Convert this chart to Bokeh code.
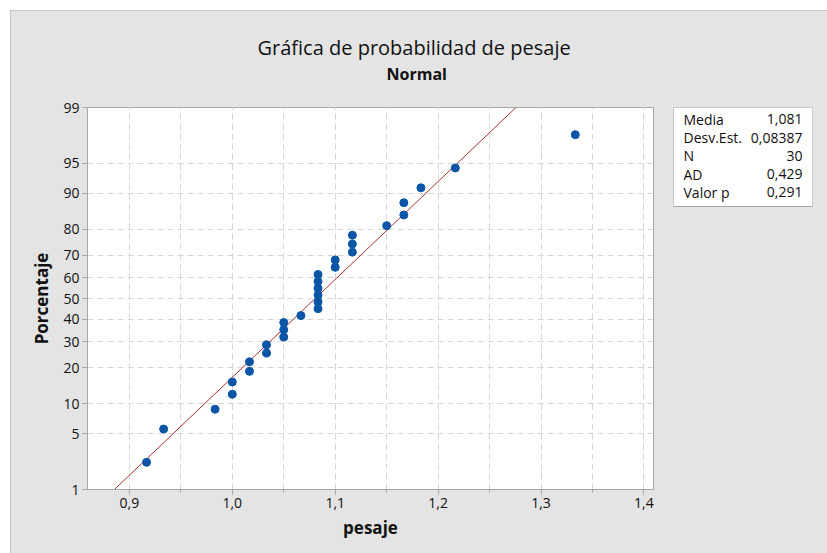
from statistics import NormalDist
import numpy as np
from bokeh.plotting import figure
from bokeh.layouts import row
from bokeh.core.properties import value
from bokeh.models import (Range1d, FixedTicker, CustomJSTickFormatter, Title,
                          ColumnDataSource)
from bokeh.embed import file_html
from bokeh.resources import INLINE

# ---- data ----
pesaje = [0.9167, 0.9333, 0.9833, 1.0000, 1.0000, 1.0167, 1.0167, 1.0333, 1.0333,
          1.0500, 1.0500, 1.0500, 1.0667, 1.0833, 1.0833, 1.0833, 1.0833, 1.0833,
          1.0833, 1.1000, 1.1000, 1.1167, 1.1167, 1.1167, 1.1500, 1.1667, 1.1667,
          1.1833, 1.2167, 1.3333]
porcentaje = [2.30, 5.59, 8.88, 12.17, 15.46, 18.75, 22.04, 25.33, 28.62, 31.91,
              35.20, 38.49, 41.78, 45.07, 48.36, 51.64, 54.93, 58.22, 61.51, 64.80,
              68.09, 71.38, 74.67, 77.96, 81.25, 84.54, 87.83, 91.12, 94.41, 97.70]
y_tick_pct = [1, 5, 10, 20, 30, 40, 50, 60, 70, 80, 90, 95, 99]
y_tick_labels = ["1", "5", "10", "20", "30", "40", "50", "60", "70", "80", "90", "95", "99"]
x_major_ticks = [0.9, 1.0, 1.1, 1.2, 1.3, 1.4]
x_minor_ticks = [0.85, 0.9, 0.95, 1.0, 1.05, 1.1, 1.15, 1.2, 1.25, 1.3, 1.35, 1.4]
stat_names = ["Media", "Desv.Est.", "N", "AD", "Valor p"]
stat_values = ["1,081", "0,08387", "30", "0,429", "0,291"]

nd = NormalDist()
z_pts = [nd.inv_cdf(p / 100.0) for p in porcentaje]
z_ticks = [nd.inv_cdf(p / 100.0) for p in y_tick_pct]
z_lo, z_hi = nd.inv_cdf(0.01), nd.inv_cdf(0.99)

mean = float(np.mean(pesaje))
sd = float(np.std(pesaje, ddof=1))
line_z = [z_lo, z_hi]
line_x = [mean + sd * z for z in line_z]

FONT = "Open Sans"
BG = "#e4e4e4"
GRID = "#d6d6d6"
AX = "#a6a6a6"
TXT = "#111111"
OFF = 11                      # white strip at top/left of the picture
TOP, FRAME_H, BOTTOM = 107 - OFF, 382, 64
H = 553 - OFF

# ---------------- main probability plot ----------------
p = figure(width=660 - OFF, height=H, output_backend="svg", toolbar_location=None,
           title=None,
           x_range=Range1d(0.8593, 1.4093), y_range=Range1d(z_lo, z_hi),
           min_border_left=87 - OFF, min_border_right=7, min_border_top=TOP,
           min_border_bottom=BOTTOM)
p.background_fill_color = "white"
p.border_fill_color = BG
p.outline_line_color = AX
p.outline_line_width = 1
p.styles = {"background-color": BG}

p.xaxis.ticker = FixedTicker(ticks=x_major_ticks, minor_ticks=x_minor_ticks)
p.xaxis.formatter = CustomJSTickFormatter(code="return tick.toFixed(1).replace('.', ',');")
p.yaxis.ticker = FixedTicker(ticks=z_ticks, minor_ticks=[])
p.yaxis.formatter = CustomJSTickFormatter(args=dict(zs=z_ticks, labs=y_tick_labels), code="""
let best = 0; let bd = Infinity;
for (let i = 0; i < zs.length; i++) { const d = Math.abs(tick - zs[i]); if (d < bd) { bd = d; best = i; } }
return labs[best];
""")
for ax in (p.xaxis, p.yaxis):
    ax.axis_line_color = AX
    ax.major_tick_line_color = AX
    ax.minor_tick_line_color = AX
    ax.major_tick_in = 0
    ax.major_tick_out = 5
    ax.minor_tick_in = 0
    ax.minor_tick_out = 3
    ax.major_label_text_font = FONT
    ax.major_label_text_font_size = "14px"
    ax.major_label_text_color = TXT
    ax.axis_label_text_font = FONT
    ax.axis_label_text_font_size = "17px"
    ax.axis_label_text_font_style = "bold"
    ax.axis_label_text_color = TXT
p.xaxis.major_label_standoff = 3
p.yaxis.major_label_standoff = 3
p.xaxis.axis_label = "pesaje"
p.yaxis.axis_label = "Porcentaje"
p.xaxis.axis_label_standoff = 5
p.yaxis.axis_label_standoff = 7

p.xgrid.ticker = FixedTicker(ticks=x_major_ticks, minor_ticks=x_minor_ticks)
p.xgrid.grid_line_color = GRID
p.xgrid.grid_line_dash = "6 4"
p.xgrid.minor_grid_line_color = GRID
p.xgrid.minor_grid_line_dash = "6 4"
p.ygrid.grid_line_color = GRID
p.ygrid.grid_line_dash = "6 4"

p.line(line_x, line_z, line_color="#a83030", line_width=1)
src = ColumnDataSource(dict(x=pesaje, z=z_pts))
p.scatter("x", "z", source=src, size=8, fill_color="#0a55a6", line_color="#0a55a6")

# titles: spacer nearest the frame, then subtitle, then main title
p.add_layout(Title(text=" ", text_font_size="1px", standoff=20), "above")
p.add_layout(Title(text="Normal", text_font=FONT, text_font_size="16px",
                   text_font_style="bold", text_color=TXT, align="left",
                   offset=299, standoff=0), "above")
p.add_layout(Title(text="Gráfica de probabilidad de pesaje", text_font=FONT,
                   text_font_size="20px", text_font_style="normal", text_color=TXT,
                   align="left", offset=170, standoff=0), "above")

# ---------------- statistics box (side panel, same frame height) ----------------
BOX_W, BOX_H = 139, 99
s = figure(width=167, height=H, output_backend="svg", toolbar_location=None,
           title=None, x_axis_type=None, y_axis_type=None,
           x_range=Range1d(0, BOX_W), y_range=Range1d(0, FRAME_H),
           min_border_left=13, min_border_right=15, min_border_top=TOP,
           min_border_bottom=BOTTOM)
s.background_fill_color = BG
s.background_fill_alpha = 0.0
s.border_fill_color = BG
s.border_fill_alpha = 0.0
s.outline_line_color = None
s.grid.visible = False
s.styles = {"background-color": BG}
s.quad(left=[0], right=[BOX_W], top=[FRAME_H], bottom=[FRAME_H - BOX_H],
       fill_color="white", line_color=AX, line_width=1)
rows_y = [FRAME_H - 11.7 - 18.3 * i for i in range(len(stat_names))]
s.text(x=[10] * len(stat_names), y=rows_y, text=stat_names,
       text_font=value(FONT), text_font_size="14px", text_color=TXT,
       text_align="left", text_baseline="middle")
s.text(x=[BOX_W - 10] * len(stat_values), y=rows_y, text=stat_values,
       text_font=value(FONT), text_font_size="14px", text_color=TXT,
       text_align="right", text_baseline="middle")

layout = row(p, s, spacing=0,
             styles={"background-color": BG,
                     "margin-left": f"{OFF - 1}px", "margin-top": f"{OFF - 1}px",
                     "border-left": "1px solid #c8c8c8",
                     "border-top": "1px solid #c8c8c8"})
open("out.html", "w").write(file_html(layout, INLINE))
